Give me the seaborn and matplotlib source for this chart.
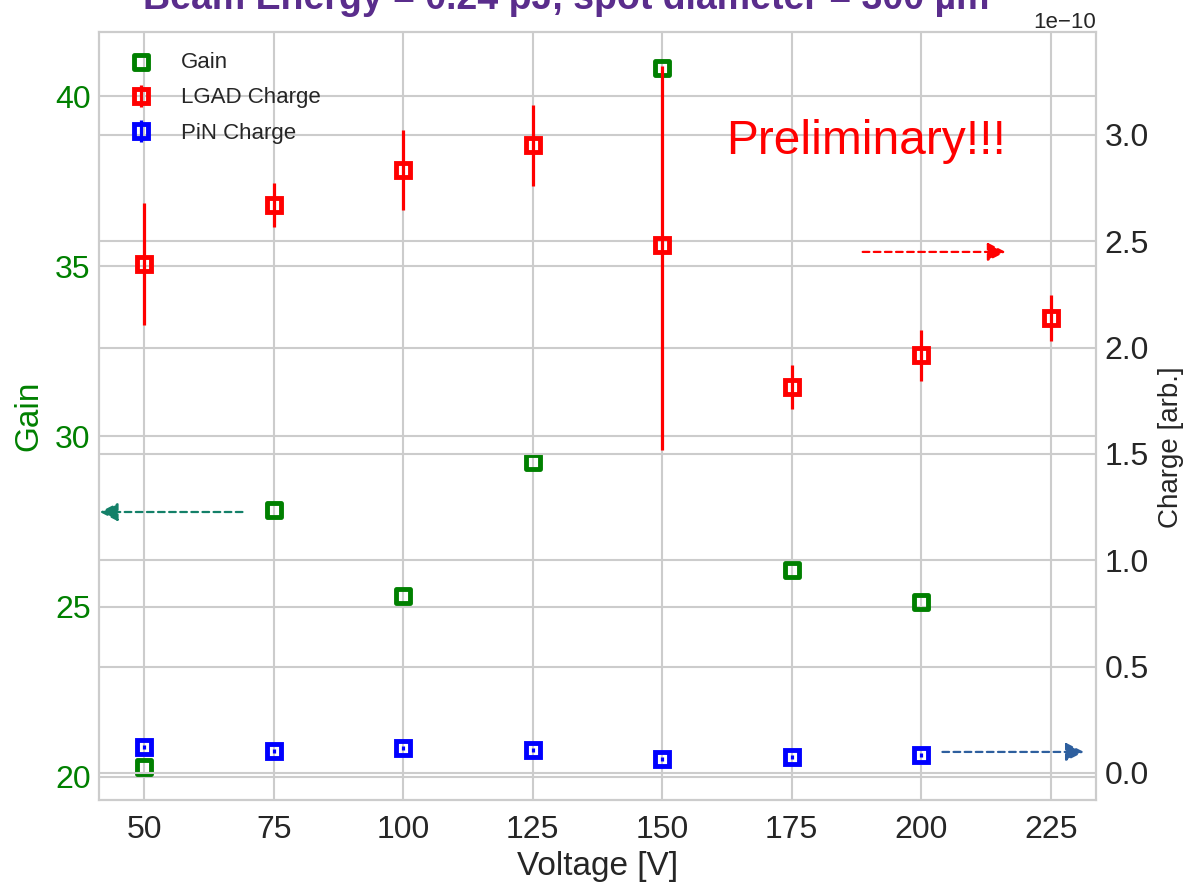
import numpy as np
import pandas as pd
import matplotlib
matplotlib.use("Agg")
import matplotlib.pyplot as plt
import seaborn as sns

# ---------------- data ----------------
voltage_gain = [50, 75, 100, 125, 150, 175, 200]
gain = [20.29, 27.84, 25.32, 29.25, 40.82, 26.08, 25.14]

voltage_lgad = [50, 75, 100, 125, 150, 175, 200, 225]
lgad_charge = [2.393e-10, 2.670e-10, 2.835e-10, 2.952e-10, 2.482e-10, 1.815e-10, 1.965e-10, 2.139e-10]
lgad_err_low = [0.287e-10, 0.105e-10, 0.19e-10, 0.19e-10, 0.963e-10, 0.105e-10, 0.12e-10, 0.11e-10]
lgad_err_high = [0.287e-10, 0.105e-10, 0.19e-10, 0.19e-10, 0.84e-10, 0.105e-10, 0.12e-10, 0.11e-10]

voltage_pin = [50, 75, 100, 125, 150, 175, 200]
pin_charge = [0.122e-10, 0.103e-10, 0.118e-10, 0.108e-10, 0.066e-10, 0.075e-10, 0.085e-10]
pin_err = [0.01e-10, 0.01e-10, 0.01e-10, 0.01e-10, 0.01e-10, 0.01e-10, 0.01e-10]

x_ticks = [50, 75, 100, 125, 150, 175, 200, 225]
gain_ticks = [20, 25, 30, 35, 40]
charge_ticks = [0.0, 0.5e-10, 1.0e-10, 1.5e-10, 2.0e-10, 2.5e-10, 3.0e-10]

title_text = "Beam Energy = 0.24 pJ, spot diameter = 300 µm"

# ---------------- style ----------------
sns.set_theme(style="whitegrid")
plt.rcParams["font.family"] = ["Liberation Sans", "DejaVu Sans"]

fig = plt.figure(figsize=(11.92, 8.84), dpi=100)
ax1 = fig.add_axes([99 / 1192, 1 - 800 / 884, (1096 - 99) / 1192, (800 - 32) / 884])
ax2 = ax1.twinx()

for a in (ax1, ax2):
    for s in a.spines.values():
        s.set_color("#cccccc")
        s.set_linewidth(1.5)

MS = 10
MEW = 3.5

df_gain = pd.DataFrame({"Voltage": voltage_gain, "Gain": gain})
sns.scatterplot(data=df_gain, x="Voltage", y="Gain", ax=ax1, marker="s",
                s=MS ** 2, facecolor="none", edgecolor="green", linewidth=MEW,
                label="Gain", zorder=3)

ax2.errorbar(voltage_lgad, lgad_charge, yerr=[lgad_err_low, lgad_err_high],
             fmt="s", ms=MS, mfc="none", mec="red", mew=MEW, ecolor="red",
             elinewidth=2.3, capsize=0, label="LGAD Charge", zorder=3)
ax2.errorbar(voltage_pin, pin_charge, yerr=pin_err,
             fmt="s", ms=MS, mfc="none", mec="blue", mew=MEW, ecolor="blue",
             elinewidth=2.3, capsize=0, label="PiN Charge", zorder=3)

# axes limits / ticks
ax1.set_xlim(41.25, 233.75)
ax1.set_ylim(19.32, 41.88)
ax2.set_ylim(-0.127e-10, 3.484e-10)
ax1.set_xticks(x_ticks)
ax1.set_yticks(gain_ticks)
ax2.set_yticks(charge_ticks)

ax1.tick_params(axis="x", labelsize=23, colors="#262626", length=0, pad=11)
ax1.tick_params(axis="y", labelsize=23, labelcolor="green", length=0, pad=6)
ax2.tick_params(axis="y", labelsize=23, labelcolor="#262626", length=0, pad=6)
off = ax2.yaxis.get_offset_text()
off.set_fontsize(16)
off.set_color("#262626")

ax1.set_xlabel("Voltage [V]", fontsize=24, color="#262626", labelpad=4)
ax1.set_ylabel("Gain", fontsize=24, color="green", labelpad=8)
ax2.set_ylabel("Charge [arb.]", fontsize=20, color="#262626")
ax2.yaxis.set_label_coords(1.062, 0.46)

ax1.grid(True, color="#cccccc", linewidth=1.5)
ax2.grid(True, color="#cccccc", linewidth=1.5)
ax1.set_axisbelow(True)

# legend combining both axes
h1, l1 = ax1.get_legend_handles_labels()
if ax1.get_legend() is not None:
    ax1.get_legend().remove()
h2, l2 = ax2.get_legend_handles_labels()
ax2.legend(h1 + h2, l1 + l2, loc="upper left", fontsize=16, frameon=False,
           borderaxespad=0.5, handletextpad=0.8, labelspacing=0.65)

# annotations
ax2.text(162.4, 2.97e-10, "Preliminary!!!", color="red", fontsize=34.5,
         va="center", ha="left")

arrow_kw = dict(arrowstyle="-|>,head_length=0.55,head_width=0.28", mutation_scale=20,
                linestyle=(0, (3, 2)), lw=1.6, shrinkA=0, shrinkB=0)
ax2.annotate("", xy=(216.3, 2.45e-10), xytext=(188.7, 2.45e-10),
             arrowprops=dict(color="red", **arrow_kw))
ax1.annotate("", xy=(41.4, 27.78), xytext=(68.95, 27.78),
             arrowprops=dict(color="#138068", **arrow_kw))
ax2.annotate("", xy=(231.4, 0.099e-10), xytext=(204.1, 0.099e-10),
             arrowprops=dict(color="#2e5f9e", **arrow_kw))

fig.text(566 / 1192, 1 - 9 / 884, title_text, ha="center", va="baseline",
         fontsize=27, fontweight="bold", color="#5a2d8c")

fig.savefig("out.png", dpi=100)
